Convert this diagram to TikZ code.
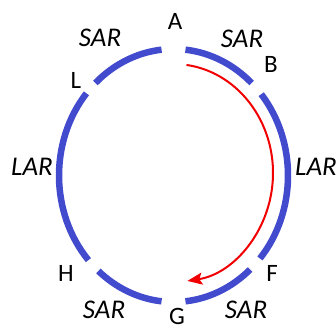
\documentclass[tikz,border=0pt]{standalone}
\usepackage{fontspec}
\setmainfont{Carlito}
\usetikzlibrary{arrows.meta}
\definecolor{ringblue}{RGB}{66,74,206}
\definecolor{arrred}{RGB}{240,0,0}
\tikzset{
  ring/.style={draw=ringblue, line width=6.5pt},
  ptlabel/.style={inner sep=0pt, font=\fontsize{25}{27}\selectfont},
  seglabel/.style={inner sep=0pt, font=\fontsize{27}{29}\selectfont\itshape},
  pathred/.style={draw=arrred, line width=2pt, -{Stealth[length=15pt,width=12pt,inset=3pt]}}
}
\begin{document}
\begin{tikzpicture}[x=1pt,y=1pt]
\useasboundingbox (0,0) rectangle (336,328);
\coordinate (C) at (173.5,152.5);
% ring arcs
\foreach \a/\b in {96/133, 139.5/222, 229/264, 276/312, 319/400, 47/84}{
  \draw[ring] (C) ++(\a:114.5 and 126.5) arc[start angle=\a, end angle=\b, x radius=114.5, y radius=126.5];
}
% red arrow
\coordinate (R) at (173.5,155);
\draw[pathred] (R) ++(82.5:99.5 and 109) arc[start angle=82.5, end angle=-82, x radius=99.5, y radius=109];
% point labels
\node[ptlabel] (A) at (175,307) {A};
\node[ptlabel] (B) at (271,264) {B};
\node[ptlabel] (L) at (76,248) {L};
\node[ptlabel] (H) at (66,55) {H};
\node[ptlabel] (F) at (272,55) {F};
\node[ptlabel] (G) at (177,12) {G};
% segment labels
\node[seglabel] (sarTL) at (100,290) {SAR};
\node[seglabel] (sarTR) at (242,289) {SAR};
\node[seglabel] (sarBL) at (104,18) {SAR};
\node[seglabel] (sarBR) at (246,18) {SAR};
\node[seglabel] (larL) at (32,161) {LAR};
\node[seglabel, anchor=west] (larR) at (295,161) {LAR};
\end{tikzpicture}
\end{document}
